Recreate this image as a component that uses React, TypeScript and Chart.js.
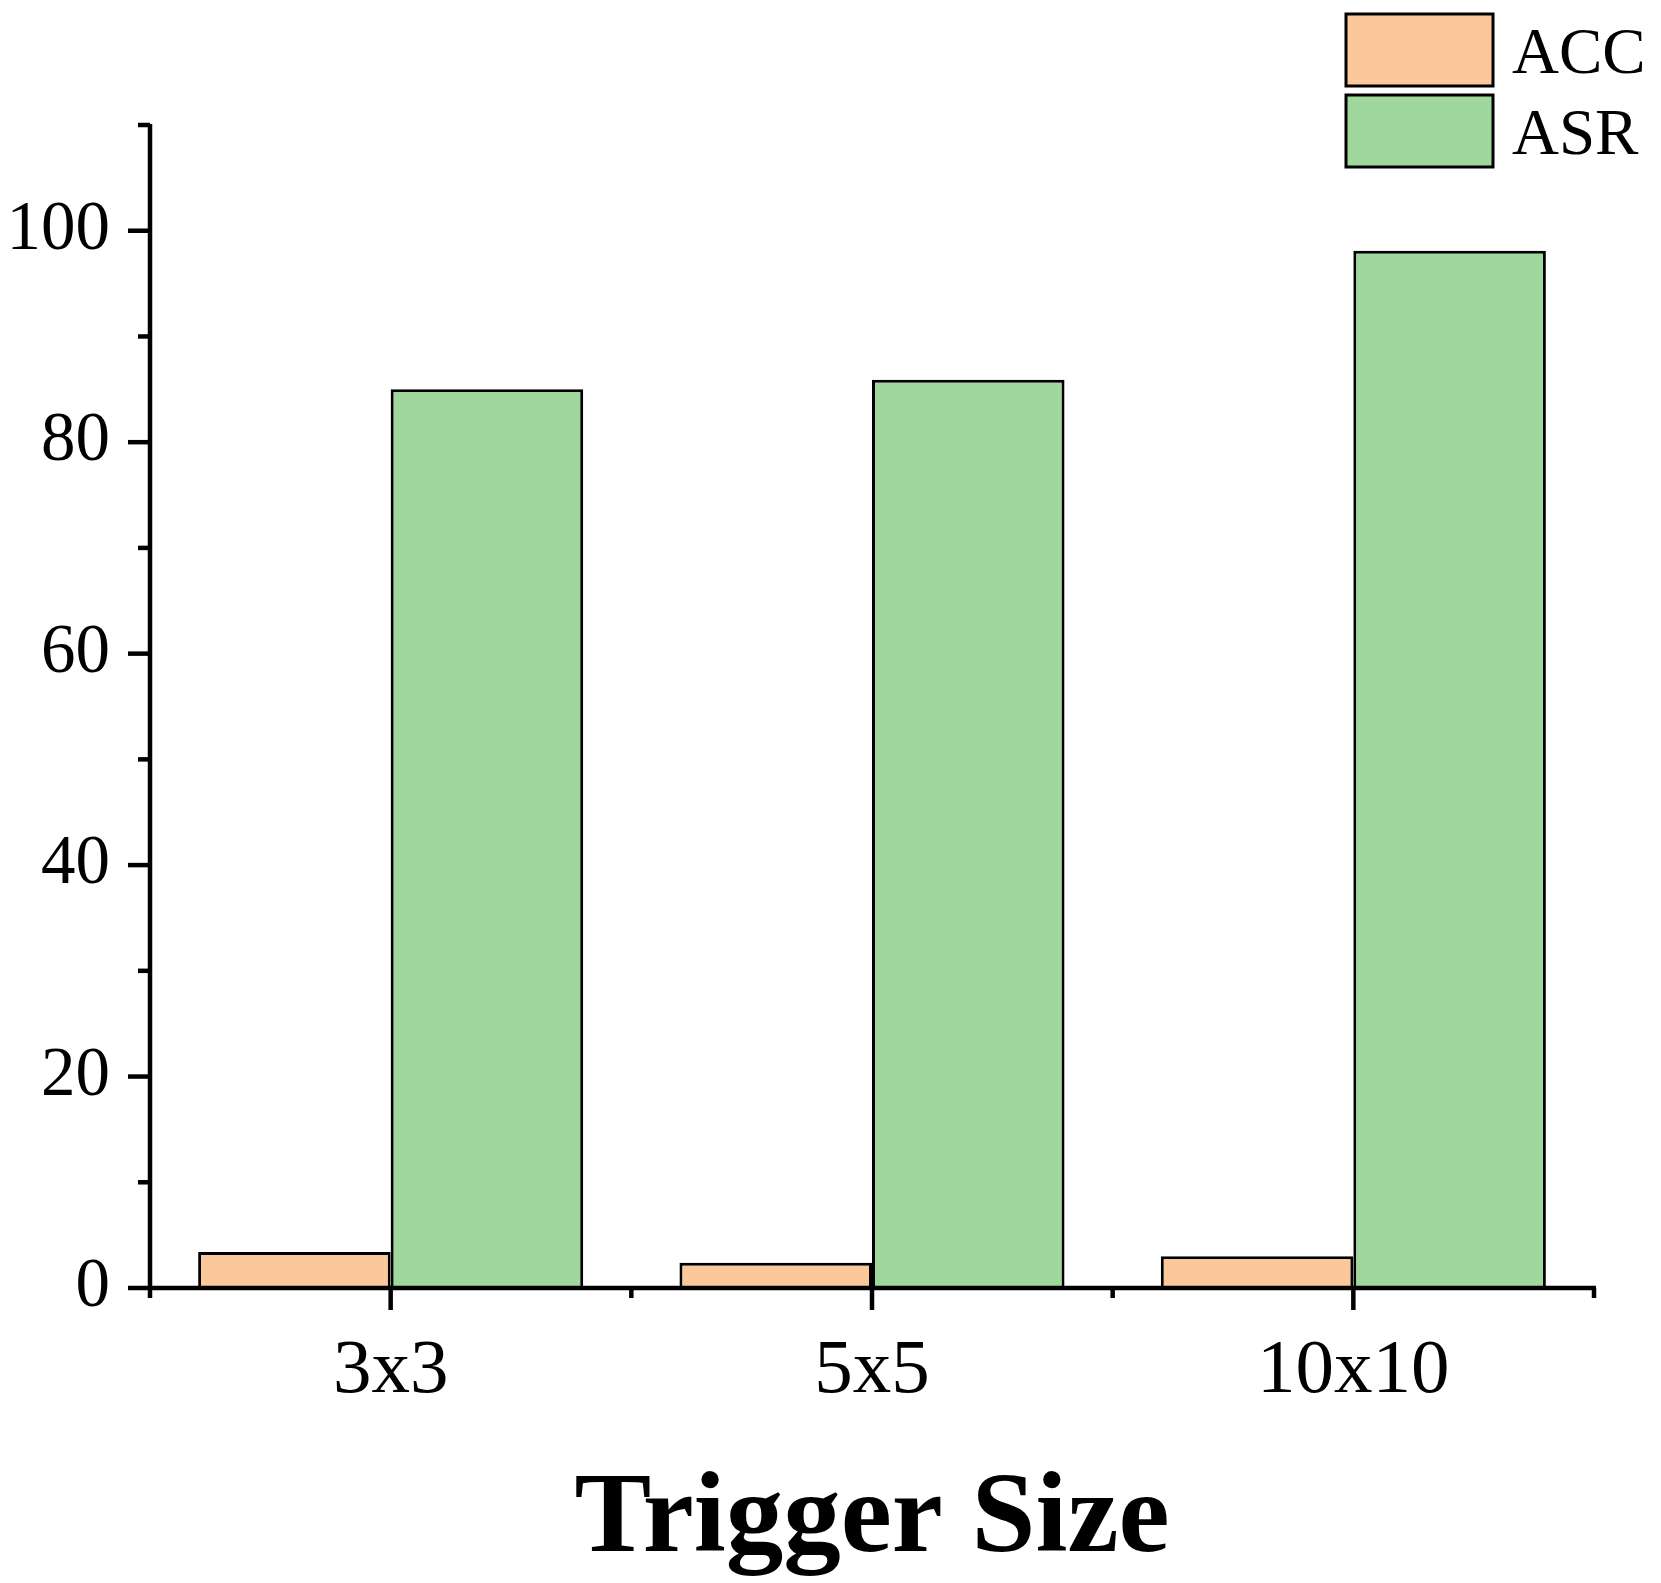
import React, { useEffect, useRef } from 'react';
import { Chart, registerables } from 'chart.js';

Chart.register(...registerables);

const categories = ['3x3', '5x5', '10x10'];
const accValues = [3.4, 2.4, 3.0];
const asrValues = [85.0, 85.9, 98.1];
const seriesLabels = ['ACC', 'ASR'];
const seriesColors = ['#FBC899', '#9FD79C'];
const xTitle = 'Trigger Size';
const yMin = 0;
const yMax = 110;
const yStep = 10;
const yLabelEvery = 20;

const SERIF = "'Liberation Serif', 'Times New Roman', Times, serif";

export default function App() {
  const ref = useRef<HTMLCanvasElement>(null);

  useEffect(() => {
    const canvas = ref.current;
    if (!canvas) return;

    const decor = {
      id: 'decor',
      afterDraw(chart: any) {
        const ctx = chart.ctx as CanvasRenderingContext2D;
        const { left, right, top, bottom } = chart.chartArea;
        const ys = chart.scales.y;
        const xs = chart.scales.x;
        ctx.save();
        ctx.strokeStyle = '#000';
        ctx.lineWidth = 4.5;
        ctx.lineCap = 'butt';

        // axis lines
        ctx.beginPath();
        ctx.moveTo(left, top - 1);
        ctx.lineTo(left, bottom);
        ctx.moveTo(left, bottom);
        ctx.lineTo(right + 2, bottom);
        ctx.stroke();

        // y ticks
        ys.ticks.forEach((t: any) => {
          const py = ys.getPixelForValue(t.value);
          const major = t.value % yLabelEvery === 0;
          const len = major ? 22 : 12;
          ctx.beginPath();
          ctx.moveTo(left - len, py);
          ctx.lineTo(left, py);
          ctx.stroke();
        });

        // x ticks: centers (major) and boundaries (minor)
        for (let i = 0; i < categories.length; i++) {
          const px = xs.getPixelForValue(i);
          ctx.beginPath();
          ctx.moveTo(px, bottom);
          ctx.lineTo(px, bottom + 22);
          ctx.stroke();
        }
        for (let i = 0; i <= categories.length; i++) {
          const px = xs.getPixelForValue(i - 0.5);
          ctx.beginPath();
          ctx.moveTo(px, bottom);
          ctx.lineTo(px, bottom + 10);
          ctx.stroke();
        }

        // x title
        ctx.fillStyle = '#000';
        ctx.font = `bold 115px ${SERIF}`;
        ctx.textAlign = 'center';
        ctx.textBaseline = 'alphabetic';
        ctx.fillText(xTitle, (left + right) / 2, bottom + 263);

        // legend
        const boxX = 1346;
        const boxW = 147;
        const boxH = 72;
        const boxYs = [14, 95];
        chart.data.datasets.forEach((ds: any, i: number) => {
          const by = boxYs[i];
          ctx.fillStyle = ds.backgroundColor;
          ctx.fillRect(boxX, by, boxW, boxH);
          ctx.lineWidth = 3;
          ctx.strokeStyle = '#000';
          ctx.strokeRect(boxX, by, boxW, boxH);
          ctx.fillStyle = '#000';
          ctx.font = `65px ${SERIF}`;
          ctx.textAlign = 'left';
          ctx.textBaseline = 'alphabetic';
          ctx.fillText(ds.label, 1512, by + boxH / 2 + 23);
        });
        ctx.restore();
      },
    };

    const chart = new Chart(canvas, {
      type: 'bar',
      data: {
        labels: categories,
        datasets: [
          {
            label: seriesLabels[0],
            data: accValues,
            backgroundColor: seriesColors[0],
            borderColor: '#000',
            borderWidth: 3,
          },
          {
            label: seriesLabels[1],
            data: asrValues,
            backgroundColor: seriesColors[1],
            borderColor: '#000',
            borderWidth: 3,
          },
        ],
      },
      options: {
        responsive: false,
        animation: false,
        devicePixelRatio: 1,
        layout: { padding: { left: 0, top: 125, right: 67, bottom: 0 } },
        datasets: { bar: { categoryPercentage: 0.8, barPercentage: 1.0 } },
        plugins: {
          legend: { display: false },
          tooltip: { enabled: false },
          title: { display: false },
        },
        scales: {
          x: {
            type: 'category',
            offset: true,
            grid: { display: false, drawTicks: false, tickLength: 0 },
            border: { display: false },
            ticks: {
              color: '#000',
              font: { family: SERIF, size: 77 },
              padding: 38,
              maxRotation: 0,
              autoSkip: false,
            },
            afterFit(scale: any) {
              scale.height = 1583 - 1288;
            },
          },
          y: {
            type: 'linear',
            min: yMin,
            max: yMax,
            grid: { display: false, drawTicks: false, tickLength: 0 },
            border: { display: false },
            ticks: {
              stepSize: yStep,
              color: '#000',
              font: { family: SERIF, size: 69 },
              padding: 40,
              autoSkip: false,
              callback: (v: any) => (Number(v) % yLabelEvery === 0 ? String(v) : ''),
            },
            afterFit(scale: any) {
              scale.width = 150;
            },
          },
        },
      },
      plugins: [decor],
    });

    return () => chart.destroy();
  }, []);

  return (
    <div style={{ position: 'fixed', left: 0, top: 0, width: 1661, height: 1583, background: '#fff' }}>
      <canvas ref={ref} width={1661} height={1583} style={{ display: 'block' }} />
    </div>
  );
}
